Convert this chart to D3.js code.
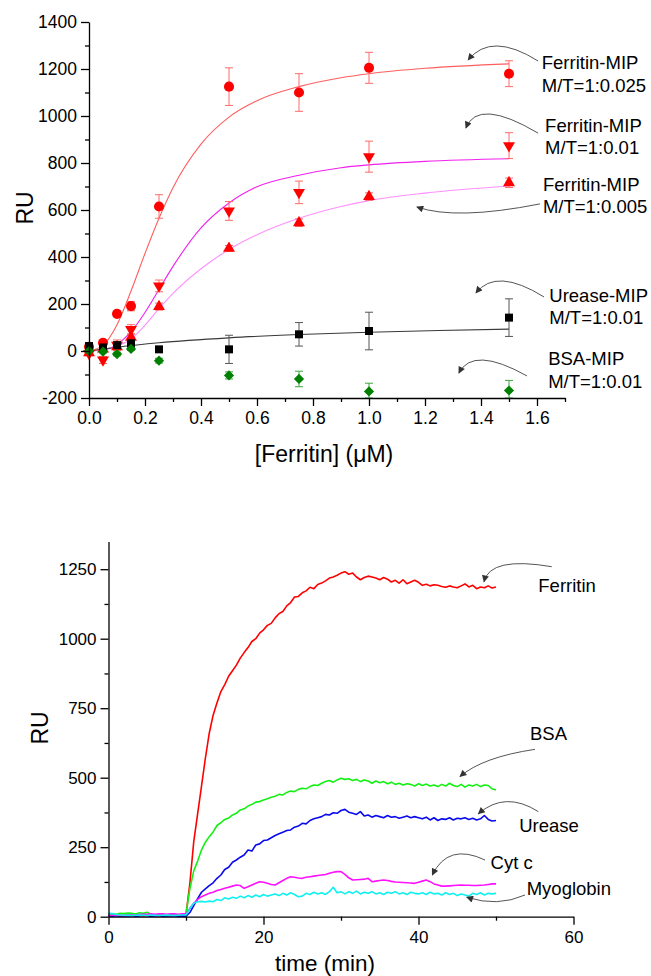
<!DOCTYPE html>
<html>
<head>
<meta charset="utf-8">
<script src="https://cdn.jsdelivr.net/npm/d3@7"></script>
<style>
  html, body { margin: 0; padding: 0; background: #fff; }
  svg { display: block; }
</style>
</head>
<body>
<script>
// ---------- Binding isotherms (upper panel) ----------
const concentrations = [0, 0.05, 0.1, 0.15, 0.25, 0.5, 0.75, 1.0, 1.5];

const ferritin025 = [18, 35, 158, 191, 615, 1125, 1100, 1205, 1180];
const ferritin025Err = [12, 10, 10, 20, 50, 80, 80, 66, 55];

const ferritin01 = [-10, -38, 25, 92, 277, 596, 675, 827, 874];
const ferritin01Err = [10, 15, 22, 20, 25, 40, 48, 66, 55];

const ferritin005 = [-8, 8, 18, 58, 189, 437, 546, 657, 716];
const ferritin005Err = [10, 10, 14, 15, 15, 12, 16, 16, 20];

const urease01 = [21, 15, 25, 33, 7, 7, 71, 85, 142];
const urease01Err = [10, 8, 8, 10, 8, 60, 50, 80, 80];

const bsa01 = [0, -3, -13, 9, -41, -104, -119, -172, -168];
const bsa01Err = [5, 5, 8, 6, 10, 15, 33, 35, 43];

// fitted binding curves, sampled along the concentration axis
const fitConc = [0, 0.05, 0.1, 0.15, 0.2, 0.25, 0.3, 0.4, 0.5, 0.6, 0.75, 0.9, 1.0, 1.2, 1.5];
const fit025 = [0, 24, 112, 255, 415, 565, 695, 880, 995, 1065, 1125, 1163, 1180, 1203, 1222];
const fit01  = [0, 4, 28, 82, 164, 262, 360, 524, 630, 699, 748, 780, 792, 807, 818];
const fit005 = [0, 5, 22, 50, 110, 180, 245, 350, 432, 495, 565, 615, 640, 672, 702];
const ureaseFitConc = [0, 0.1, 0.25, 0.5, 0.75, 1.0, 1.25, 1.5];
const ureaseFit = [0, 16, 35, 56, 70, 80, 87, 93];

const topYTicks = [-200, 0, 200, 400, 600, 800, 1000, 1200, 1400];
const topYMinor = [-100, 100, 300, 500, 700, 900, 1100, 1300];
const topXTicks = [0, 0.2, 0.4, 0.6, 0.8, 1.0, 1.2, 1.4, 1.6];
const topXMinor = [0.1, 0.3, 0.5, 0.7, 0.9, 1.1, 1.3, 1.5, 1.7];

// ---------- Sensorgrams (lower panel) ----------
const sampleTimes = [
  0, 0.5, 1, 1.5, 2, 2.5, 3, 3.5, 4, 4.5,
  5, 5.5, 6, 6.5, 7, 7.5, 8, 8.5, 9, 9.5,
  10, 10.5, 11, 11.5, 12, 12.5, 13, 13.5, 14, 14.5,
  15, 15.5, 16, 16.5, 17, 17.5, 18, 18.5, 19, 19.5,
  20, 20.5, 21, 21.5, 22, 22.5, 23, 23.5, 24, 24.5,
  25, 25.5, 26, 26.5, 27, 27.5, 28, 28.5, 29, 29.5,
  30, 30.5, 31, 31.5, 32, 32.5, 33, 33.5, 34, 34.5,
  35, 35.5, 36, 36.5, 37, 37.5, 38, 38.5, 39, 39.5,
  40, 40.5, 41, 41.5, 42, 42.5, 43, 43.5, 44, 44.5,
  45, 45.5, 46, 46.5, 47, 47.5, 48, 48.5, 49, 49.5,
  50
];

const ferritinRU = [
  5, 4, 6, 3, 5, 7, 4, 6, 5, 3,
  6, 4, 5, 7, 5, 4, 6, 5, 4, 5,
  8, 120, 270, 370, 470, 570, 660, 725, 770, 810,
  835, 865, 885, 905, 930, 950, 968, 990, 1000, 1020,
  1032, 1048, 1055, 1075, 1090, 1098, 1118, 1130, 1150, 1152,
  1165, 1172, 1185, 1180, 1195, 1200, 1208, 1218, 1222, 1228,
  1236, 1241, 1232, 1236, 1222, 1212, 1220, 1225, 1222, 1218,
  1212, 1220, 1214, 1204, 1210, 1200, 1212, 1198, 1204, 1210,
  1203, 1192, 1196, 1190, 1194, 1192, 1188, 1185, 1190, 1186,
  1183, 1190, 1197, 1186, 1192, 1180, 1186, 1183, 1190, 1182,
  1186
];

const bsaRU = [
  8, 10, 9, 12, 11, 13, 12, 10, 14, 12,
  16, 8, 6, 7, 5, 6, 5, 7, 6, 6,
  10, 100, 165, 200, 240, 268, 288, 305, 328, 338,
  350, 355, 366, 372, 384, 388, 398, 404, 412, 414,
  420, 424, 430, 433, 440, 438, 447, 452, 450, 458,
  462, 460, 468, 474, 472, 480, 486, 490, 484, 492,
  498, 494, 496, 490, 494, 486, 492, 488, 480, 488,
  482, 486, 478, 484, 476, 480, 474, 478, 476, 470,
  478, 472, 477, 470, 474, 468, 476, 470, 480, 472,
  468, 476, 466, 474, 470, 476, 468, 474, 472, 460,
  456
];

const ureaseRU = [
  3, 2, 4, 3, 2, 3, 4, 2, 3, 5,
  3, 2, 4, 3, 2, 3, 4, 3, 2, 3,
  2, 15, 40, 65, 88, 100, 112, 122, 138, 150,
  170, 178, 196, 204, 214, 222, 240, 236, 258, 262,
  274, 276, 284, 292, 298, 304, 310, 312, 322, 326,
  336, 334, 346, 352, 356, 360, 368, 366, 374, 372,
  382, 386, 376, 372, 368, 378, 362, 366, 358, 364,
  360, 356, 364, 358, 360, 354, 358, 362, 356, 360,
  356, 352, 358, 348, 356, 346, 352, 350, 356, 348,
  354, 352, 356, 350, 354, 348, 352, 364, 350, 344,
  346
];

const cytcRU = [
  5, 5, 6, 5, 4, 5, 6, 5, 8, 9,
  9, 10, 9, 10, 10, 9, 10, 10, 9, 10,
  10, 30, 48, 62, 72, 78, 84, 88, 94, 98,
  102, 106, 110, 114, 112, 102, 108, 114, 120, 126,
  124, 120, 116, 114, 122, 130, 138, 144, 142, 139,
  138, 142, 144, 146, 148, 150, 152, 156, 160, 162,
  162, 152, 140, 132, 133, 134, 135, 138, 126, 128,
  130, 132, 130, 127, 125, 124, 123, 122, 121, 120,
  124, 128, 132, 126, 118, 114, 110, 110, 111, 112,
  113, 114, 113, 113, 112, 112, 113, 114, 116, 118,
  118
];

const myoglobinRU = [
  12, 11, 8, 6, 5, 6, 4, 5, 6, 5,
  4, 6, 5, 4, 5, 6, 5, 4, 5, 6,
  6, 30, 48, 54, 55, 53, 56, 54, 62, 58,
  68, 64, 70, 66, 74, 68, 76, 70, 78, 72,
  80, 74, 78, 82, 76, 84, 78, 86, 80, 72,
  74, 84, 80, 88, 82, 86, 80, 90, 106, 86,
  90, 82, 90, 84, 92, 82, 88, 84, 90, 82,
  86, 80, 88, 84, 90, 82, 86, 80, 88, 84,
  82, 86, 80, 88, 82, 84, 78, 86, 80, 84,
  76, 82, 78, 74, 84, 80, 86, 78, 84, 82,
  84
];

const botYTicks = [0, 250, 500, 750, 1000, 1250];
const botYMinor = [125, 375, 625, 875, 1125];
const botXTicks = [0, 20, 40, 60];
const botXMinor = [10, 30, 50];

// ---------- drawing ----------
const FONT = "'Liberation Sans', Arial, Helvetica, sans-serif";
const W = 651, H = 976;

const svg = d3.select("body").append("svg")
  .attr("width", W).attr("height", H)
  .attr("font-family", FONT);

const defs = svg.append("defs");
defs.append("marker")
  .attr("id", "head")
  .attr("viewBox", "0 0 10 10")
  .attr("refX", 9).attr("refY", 5)
  .attr("markerWidth", 9).attr("markerHeight", 7)
  .attr("markerUnits", "userSpaceOnUse")
  .attr("orient", "auto")
  .append("path").attr("d", "M0,0 L10,5 L0,10 Z").attr("fill", "#333");

function drawAxes(g, x, y, opts) {
  const fmtX = opts.fmtX, fmtY = opts.fmtY;
  const ax = g.append("g").attr("transform", `translate(0,${y.range()[0]})`)
    .call(d3.axisBottom(x).tickValues(opts.xTicks).tickFormat(fmtX)
      .tickSize(8).tickSizeOuter(0).tickPadding(6));
  g.append("g").attr("transform", `translate(0,${y.range()[0]})`)
    .call(d3.axisBottom(x).tickValues(opts.xMinor).tickFormat("")
      .tickSize(4).tickSizeOuter(0))
    .select(".domain").remove();
  const ay = g.append("g").attr("transform", `translate(${x.range()[0]},0)`)
    .call(d3.axisLeft(y).tickValues(opts.yTicks).tickFormat(fmtY)
      .tickSize(8).tickSizeOuter(0).tickPadding(4));
  g.append("g").attr("transform", `translate(${x.range()[0]},0)`)
    .call(d3.axisLeft(y).tickValues(opts.yMinor).tickFormat("")
      .tickSize(4).tickSizeOuter(0))
    .select(".domain").remove();
  g.selectAll(".domain, .tick line").attr("stroke", "#000").attr("stroke-width", 1.3);
  [ax, ay].forEach(a => a.selectAll("text")
    .attr("font-family", FONT).attr("font-size", opts.fontSize).attr("fill", "#000"));
}

function annotate(g, x, y, items) {
  items.forEach(a => {
    const p0 = [x(a.from[0]), y(a.from[1])];
    const c = [x(a.ctrl[0]), y(a.ctrl[1])];
    const p1 = [x(a.to[0]), y(a.to[1])];
    g.append("path")
      .attr("d", `M${p0[0]},${p0[1]} Q${c[0]},${c[1]} ${p1[0]},${p1[1]}`)
      .attr("fill", "none").attr("stroke", "#555").attr("stroke-width", 1)
      .attr("marker-end", "url(#head)");
    const t = g.append("text")
      .attr("x", x(a.at[0])).attr("y", y(a.at[1]))
      .attr("font-size", 18.5).attr("fill", "#000");
    a.lines.forEach((ln, i) => {
      t.append("tspan").attr("x", x(a.at[0])).attr("dy", i === 0 ? 0 : 22.5).text(ln);
    });
  });
}

// ===== Upper panel =====
const gTop = svg.append("g");
const xTop = d3.scaleLinear().domain([0, 1.7]).range([89, 565]);
const yTop = d3.scaleLinear().domain([-200, 1400]).range([398, 22]);

const fitLine = d3.line().x(d => xTop(d[0])).y(d => yTop(d[1])).curve(d3.curveMonotoneX);
const fits = [
  { xs: fitConc, ys: fit025, color: "#ff5e5e" },
  { xs: fitConc, ys: fit01, color: "#f020f0" },
  { xs: fitConc, ys: fit005, color: "#ff90ff" },
  { xs: ureaseFitConc, ys: ureaseFit, color: "#3a3a3a" }
];
fits.forEach(f => {
  gTop.append("path")
    .attr("d", fitLine(f.xs.map((v, i) => [v, f.ys[i]])))
    .attr("fill", "none").attr("stroke", f.color).attr("stroke-width", 1.1);
});

const series = [
  { vals: ferritin005, err: ferritin005Err, color: "#ff0000", errColor: "#ff6a6a", sym: d3.symbolTriangle, size: 62, rot: 0 },
  { vals: ferritin01, err: ferritin01Err, color: "#ff0000", errColor: "#ff6a6a", sym: d3.symbolTriangle, size: 62, rot: 180 },
  { vals: ferritin025, err: ferritin025Err, color: "#ff0000", errColor: "#ff6a6a", sym: d3.symbolCircle, size: 80, rot: 0 },
  { vals: urease01, err: urease01Err, color: "#000000", errColor: "#555555", sym: d3.symbolSquare, size: 64, rot: 0 },
  { vals: bsa01, err: bsa01Err, color: "#008000", errColor: "#3aa83a", sym: d3.symbolSquare, size: 52, rot: 45 }
];

series.forEach(s => {
  const eg = gTop.append("g").attr("stroke", s.errColor).attr("stroke-width", 1);
  concentrations.forEach((c, i) => {
    const lo = Math.max(s.vals[i] - s.err[i], -200);
    const hi = s.vals[i] + s.err[i];
    const cx = xTop(c);
    eg.append("line").attr("x1", cx).attr("x2", cx).attr("y1", yTop(lo)).attr("y2", yTop(hi));
    eg.append("line").attr("x1", cx - 4).attr("x2", cx + 4).attr("y1", yTop(hi)).attr("y2", yTop(hi));
    eg.append("line").attr("x1", cx - 4).attr("x2", cx + 4).attr("y1", yTop(lo)).attr("y2", yTop(lo));
  });
});
series.forEach(s => {
  const sym = d3.symbol().type(s.sym).size(s.size);
  gTop.append("g").selectAll("path").data(concentrations).join("path")
    .attr("d", sym)
    .attr("transform", (c, i) => `translate(${xTop(c)},${yTop(s.vals[i])}) rotate(${s.rot})`)
    .attr("fill", s.color);
});

drawAxes(gTop, xTop, yTop, {
  xTicks: topXTicks, xMinor: topXMinor, yTicks: topYTicks, yMinor: topYMinor,
  fmtX: d3.format(".1f"), fmtY: d => String(d), fontSize: 17.5
});

gTop.append("text").attr("transform", "translate(33,208) rotate(-90)")
  .attr("text-anchor", "middle").attr("font-size", 23).text("RU");
gTop.append("text").attr("x", 324).attr("y", 462)
  .attr("text-anchor", "middle").attr("font-size", 23).text("[Ferritin] (\u03BCM)");

annotate(gTop, xTop, yTop, [
  { lines: ["Ferritin-MIP", "M/T=1:0.025"], at: [1.617, 1198], from: [1.604, 1234], ctrl: [1.436, 1360], to: [1.354, 1238] },
  { lines: ["Ferritin-MIP", "M/T=1:0.01"], at: [1.629, 933], from: [1.604, 927], ctrl: [1.389, 1079], to: [1.346, 949] },
  { lines: ["Ferritin-MIP", "M/T=1:0.005"], at: [1.621, 681], from: [1.611, 626], ctrl: [1.309, 555], to: [1.171, 613] },
  { lines: ["Urease-MIP", "M/T=1:0.01"], at: [1.644, 210], from: [1.625, 230], ctrl: [1.454, 357], to: [1.382, 247] },
  { lines: ["BSA-MIP", "M/T=1:0.01"], at: [1.640, -60], from: [1.564, -106], ctrl: [1.371, 23], to: [1.321, -94] }
]);

// ===== Lower panel =====
const gBot = svg.append("g");
const xBot = d3.scaleLinear().domain([0, 60]).range([108.5, 573.5]);
const yBot = d3.scaleLinear().domain([0, 1350]).range([916.7, 541.4]);

const sensor = d3.line().x((d, i) => xBot(sampleTimes[i])).y(d => yBot(d));
[
  { vals: ferritinRU, color: "#ff0000" },
  { vals: bsaRU, color: "#14f014" },
  { vals: ureaseRU, color: "#0a0aee" },
  { vals: cytcRU, color: "#ff10ff" },
  { vals: myoglobinRU, color: "#10f0f0" }
].forEach(s => {
  gBot.append("path").attr("d", sensor(s.vals))
    .attr("fill", "none").attr("stroke", s.color)
    .attr("stroke-width", 1.6).attr("stroke-linejoin", "round");
});

drawAxes(gBot, xBot, yBot, {
  xTicks: botXTicks, xMinor: botXMinor, yTicks: botYTicks, yMinor: botYMinor,
  fmtX: d => String(d), fmtY: d => String(d), fontSize: 17
});

gBot.append("text").attr("transform", "translate(48,728) rotate(-90)")
  .attr("text-anchor", "middle").attr("font-size", 23).text("RU");
gBot.append("text").attr("x", 325).attr("y", 971)
  .attr("text-anchor", "middle").attr("font-size", 22.5).text("time (min)");

annotate(gBot, xBot, yBot, [
  { lines: ["Ferritin"], at: [55.46, 1169], from: [57.19, 1259], ctrl: [49.23, 1297], to: [48.45, 1205] },
  { lines: ["BSA"], at: [54.39, 636], from: [55.03, 602], ctrl: [48.26, 574], to: [45.35, 504] },
  { lines: ["Urease"], at: [53.0, 306], from: [55.46, 378], ctrl: [51.16, 454], to: [47.72, 370] },
  { lines: ["Cyt c"], at: [49.3, 170], from: [48.58, 204], ctrl: [43.81, 267], to: [41.78, 150] },
  { lines: ["Myoglobin"], at: [53.96, 78], from: [53.74, 78], ctrl: [50.19, 34], to: [46.22, 70] }
]);
</script>
</body>
</html>
